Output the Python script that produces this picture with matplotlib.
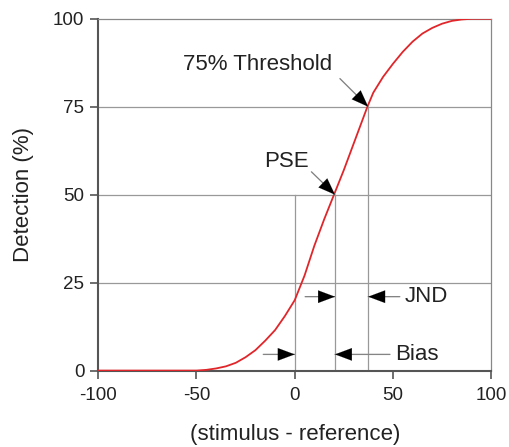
import matplotlib
matplotlib.use("Agg")
import matplotlib.pyplot as plt

plt.rcParams['font.family'] = ['Liberation Sans', 'DejaVu Sans']
plt.rcParams['axes.unicode_minus'] = False

# psychometric curve
stim = [-100, -50, -45, -40, -35, -30, -25, -20, -15, -10, -5, 0, 5, 10, 15, 20, 25, 30, 35, 37,
        40, 45, 50, 55, 60, 65, 70, 75, 80, 85, 90, 100]
detect = [0, 0, 0.2, 0.6, 1.2, 2.2, 3.8, 5.8, 8.5, 11.5, 15.5, 20, 27, 35.5, 43, 50, 57, 64.5, 72, 75,
          79, 83.5, 87.2, 90.6, 93.5, 95.8, 97.4, 98.6, 99.4, 99.8, 100, 100]

pse = 20.5        # 50% point
thr75 = 37.4      # 75% point
y_ticks = [0, 25, 50, 75, 100]
x_ticks = [-100, -50, 0, 50, 100]

fig = plt.figure(figsize=(5.09, 4.47), dpi=100)
ax = fig.add_axes([0.193, 0.171, 0.772, 0.787])

# grid lines and guide lines
for yv in [25, 50, 75]:
    ax.axhline(yv, color='#999999', lw=0.9, zorder=1)
ax.plot([0, 0], [0, 50], color='#999999', lw=0.9, zorder=1)
ax.plot([pse, pse], [0, 50], color='#999999', lw=0.9, zorder=1)
ax.plot([thr75, thr75], [0, 75], color='#999999', lw=0.9, zorder=1)

ax.plot(stim, detect, color='#e0262a', lw=1.3, zorder=3)

ax.set_xlim(-100, 100)
ax.set_ylim(0, 100)
ax.set_xticks(x_ticks)
ax.set_yticks(y_ticks)
ax.tick_params(labelsize=13.5, length=6, width=1.2, color='#555555', direction='out',
               labelcolor='#222222')
ax.tick_params(axis='x', pad=6)
ax.tick_params(axis='y', pad=4)
for s in ['left', 'bottom']:
    ax.spines[s].set_color('#555555')
    ax.spines[s].set_linewidth(1.5)
for s in ['top', 'right']:
    ax.spines[s].set_color('#888888')
    ax.spines[s].set_linewidth(0.9)

ax.set_xlabel('(stimulus - reference)', fontsize=16, labelpad=14, color='#222222')
ax.set_ylabel('Detection (%)', fontsize=16, labelpad=14, color='#222222')


def arrow(tail, tip):
    # gray shaft with black filled head
    ax.annotate('', xy=tip, xytext=tail,
                arrowprops=dict(arrowstyle='-', color='#999999', lw=1.0,
                                shrinkA=0, shrinkB=0), zorder=4)
    ax.annotate('', xy=tip, xytext=tail,
                arrowprops=dict(arrowstyle='-|>,head_length=1.2,head_width=0.45',
                                color='black', lw=0.1, shrinkA=0, shrinkB=0,
                                mutation_scale=10), zorder=5)


ax.text(-19, 87, '75% Threshold', fontsize=16, ha='center', va='center', color='#222222')
arrow((23, 83), (thr75, 75))
ax.text(-4, 59.5, 'PSE', fontsize=16, ha='center', va='center', color='#222222')
arrow((8.5, 56.5), (pse, 50))

ax.text(56, 21, 'JND', fontsize=16, ha='left', va='center', color='#222222')
arrow((5.3, 21), (pse, 21))
arrow((53.5, 21), (thr75, 21))

ax.text(51, 4.6, 'Bias', fontsize=16, ha='left', va='center', color='#222222')
arrow((-16, 4.6), (0, 4.6))
arrow((48.5, 4.6), (pse, 4.6))

fig.savefig('out.png', dpi=100)
